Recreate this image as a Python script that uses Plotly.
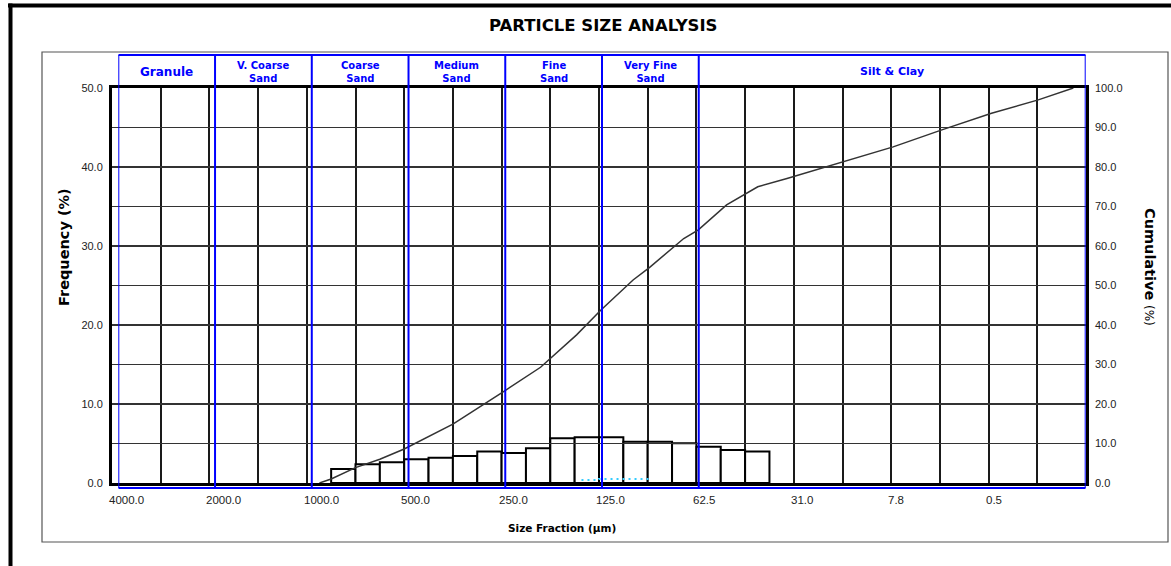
import plotly.graph_objects as go

# ---------------- data ----------------
# histogram bins (phi units, start of each 0.25-phi bin) and frequency (%)
bin_start_phi = [0.25, 0.5, 0.75, 1.0, 1.25, 1.5, 1.75, 2.0, 2.25,
                 2.5, 2.75, 3.0, 3.25, 3.5, 3.75, 4.0, 4.25, 4.5]
frequency = [1.77, 2.37, 2.62, 3.0, 3.2, 3.42, 4.0, 3.8, 4.39,
             5.65, 5.8, 5.8, 5.23, 5.23, 5.02, 4.6, 4.18, 4.0]
bin_width = 0.25

# cumulative curve (phi, %)
cum_phi = [0.13, 0.25, 0.5, 0.75, 1.0, 1.5, 2.0, 2.4, 2.77, 3.02, 3.35, 3.52,
           3.87, 4.02, 4.31, 4.63, 4.93, 5.53, 6.02, 6.52, 7.03, 7.51, 7.87]
cum_val = [0.0, 1.0, 3.9, 6.0, 8.6, 14.9, 22.8, 29.3, 37.5, 43.8, 51.4, 54.6,
           61.9, 64.1, 70.4, 75.0, 77.1, 81.5, 85.1, 89.4, 93.6, 97.0, 100.0]

# small secondary (cyan dotted) series
minor_phi = [2.82, 3.0, 3.0, 3.54]
minor_val = [0.38, 0.38, 0.5, 0.5]

# x axis: grid every 0.5 phi, labels every 1 phi
grid_phi = [-2, -1.5, -1, -0.5, 0, 0.5, 1, 1.5, 2, 2.5, 3, 3.5, 4, 4.5,
            5, 5.5, 6, 6.5, 7, 7.5, 8]
label_phi = [-2, -1, 0, 1, 2, 3, 4, 5, 6, 7]
label_text = ["4000.0", "2000.0", "1000.0", "500.0", "250.0", "125.0",
              "62.5", "31.0", "7.8", "0.5"]

freq_ticks = [0, 5, 10, 15, 20, 25, 30, 35, 40, 45, 50]
freq_text = ["0.0", "", "10.0", "", "20.0", "", "30.0", "", "40.0", "", "50.0"]
cum_ticks = [0, 10, 20, 30, 40, 50, 60, 70, 80, 90, 100]
cum_text = ["0.0", "10.0", "20.0", "30.0", "40.0", "50.0", "60.0", "70.0",
            "80.0", "90.0", "100.0"]

# Wentworth classes
class_bounds = [-2, -1, 0, 1, 2, 3, 4, 8]
class_names = ["Granule", "V. Coarse<br>Sand", "Coarse<br>Sand", "Medium<br>Sand",
               "Fine<br>Sand", "Very Fine<br>Sand", "Silt & Clay"]
class_font = [12, 10, 10, 10, 10, 10, 11]

# ---------------- layout helpers ----------------
W, H = 1171, 566
L, R, T, B = 112, 1086, 88, 483   # plot area in screen px
CL, CR = 118.3, 1085.7            # class-band overlay extent (screen px)


def px(x):
    return (x - L) / (R - L)


def py(y):
    return (B - y) / (B - T)


FONT_TXT = "DejaVu Sans"
FONT_NUM = "Liberation Sans, Arial, sans-serif"
BLUE = "#0000FF"

fig = go.Figure()

fig.add_trace(go.Bar(
    x=[s + bin_width / 2 for s in bin_start_phi], y=frequency, width=bin_width,
    marker=dict(color="white", line=dict(color="black", width=2)),
    xaxis="x", yaxis="y", showlegend=False, hoverinfo="skip"))

fig.add_trace(go.Scatter(
    x=minor_phi, y=minor_val, mode="lines",
    line=dict(color="#33CCFF", width=2, dash="2px,4px"),
    xaxis="x", yaxis="y", showlegend=False, hoverinfo="skip"))

fig.add_trace(go.Scatter(
    x=cum_phi, y=cum_val, mode="lines",
    line=dict(color="#333333", width=1.5),
    xaxis="x", yaxis="y2", showlegend=False, hoverinfo="skip"))

# dummy trace to instantiate the class-band axis
fig.add_trace(go.Scatter(
    x=[class_bounds[0], class_bounds[-1]], y=[None, None], mode="lines",
    xaxis="x3", yaxis="y", showlegend=False, hoverinfo="skip"))

shapes = []
for b in class_bounds:
    shapes.append(dict(type="line", xref="x3", yref="paper", x0=b, x1=b,
                       y0=py(488), y1=py(55), line=dict(color=BLUE, width=2),
                       layer="above"))
shapes.append(dict(type="line", xref="x3", yref="paper", x0=class_bounds[0],
                   x1=class_bounds[-1], y0=py(55), y1=py(55),
                   line=dict(color=BLUE, width=2), layer="above"))
shapes.append(dict(type="line", xref="x3", yref="paper", x0=class_bounds[0],
                   x1=class_bounds[-1], y0=py(488), y1=py(488),
                   line=dict(color=BLUE, width=2), layer="above"))
shapes.append(dict(type="rect", xref="paper", yref="paper", x0=px(42), x1=px(1168),
                   y0=py(542), y1=py(52), line=dict(color="#555555", width=1.2),
                   layer="below"))
shapes.append(dict(type="line", xref="paper", yref="paper", x0=px(8), x1=px(W + 20),
                   y0=py(5.5), y1=py(5.5), line=dict(color="black", width=4)))
shapes.append(dict(type="line", xref="paper", yref="paper", x0=px(10.5), x1=px(10.5),
                   y0=py(H + 20), y1=py(3.5), line=dict(color="black", width=4)))

annotations = []
for i, name in enumerate(class_names):
    annotations.append(dict(
        xref="x3", yref="paper",
        x=(class_bounds[i] + class_bounds[i + 1]) / 2, y=py(71.5),
        text="<b>%s</b>" % name, showarrow=False,
        font=dict(family=FONT_TXT, size=class_font[i], color=BLUE),
        xanchor="center", yanchor="middle", align="center"))

for p, t in zip(label_phi, label_text):
    annotations.append(dict(
        xref="x", yref="paper", x=p, y=py(500), text=t, showarrow=False,
        xanchor="left", yanchor="middle", xshift=-5,
        font=dict(family=FONT_NUM, size=11.5, color="#222222")))

annotations.append(dict(
    xref="paper", yref="paper", x=px(603), y=py(25),
    text="<b>PARTICLE SIZE ANALYSIS</b>", showarrow=False,
    font=dict(family=FONT_TXT, size=16.5, color="black"),
    xanchor="center", yanchor="middle"))
annotations.append(dict(
    xref="paper", yref="paper", x=px(562), y=py(528),
    text="<b>Size Fraction (µm)</b>", showarrow=False,
    font=dict(family=FONT_TXT, size=10.5, color="black"),
    xanchor="center", yanchor="middle"))
annotations.append(dict(
    xref="paper", yref="paper", x=px(64), y=py(247),
    text="<b>Frequency (%)</b>", showarrow=False, textangle=-90,
    font=dict(family=FONT_TXT, size=14.5, color="black"),
    xanchor="center", yanchor="middle"))
annotations.append(dict(
    xref="paper", yref="paper", x=px(1150), y=py(267),
    text="<b>Cumulative</b> <span style='font-size:12px'>(%)</span>",
    showarrow=False, textangle=90,
    font=dict(family=FONT_TXT, size=14.5, color="black"),
    xanchor="center", yanchor="middle"))

fig.update_layout(
    width=W, height=H, autosize=False,
    margin=dict(l=L, r=W - R, t=T, b=H - B, pad=0),
    paper_bgcolor="white", plot_bgcolor="rgba(0,0,0,0)",
    bargap=0, showlegend=False,
    xaxis=dict(range=[-2, 8], domain=[0, 1], tickmode="array", tickvals=grid_phi,
               showticklabels=False, ticks="", showgrid=True, gridcolor="#1a1a1a",
               gridwidth=2, zeroline=False, showline=True, linecolor="black",
               linewidth=3, mirror=True, fixedrange=True),
    xaxis3=dict(range=[class_bounds[0], class_bounds[-1]], domain=[px(CL), px(CR)],
                anchor="y", visible=False, showgrid=False, zeroline=False,
                fixedrange=True),
    yaxis=dict(range=[0, 50], domain=[0, 1], tickmode="array", tickvals=freq_ticks,
               ticktext=freq_text, ticks="", showgrid=True, gridcolor="#333333",
               gridwidth=1.5, zeroline=False, showline=True, linecolor="black",
               linewidth=3, mirror=True, ticklabelstandoff=4,
               tickfont=dict(family=FONT_NUM, size=11, color="#222222"),
               fixedrange=True),
    yaxis2=dict(range=[0, 100], overlaying="y", side="right", tickmode="array",
                tickvals=cum_ticks, ticktext=cum_text, ticks="", showgrid=False,
                zeroline=False, showline=False, ticklabelstandoff=8,
                tickfont=dict(family=FONT_NUM, size=11, color="#222222"),
                fixedrange=True),
    shapes=shapes, annotations=annotations,
)

fig.write_html("out.html",
               config={"displayModeBar": False, "staticPlot": True},
               post_script="document.body.style.margin='0';"
                           "document.body.style.overflow='hidden';")
